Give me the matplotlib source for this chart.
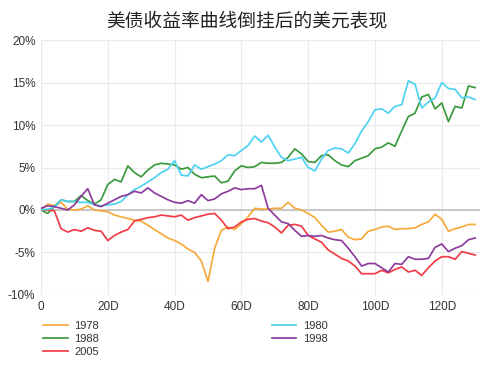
import numpy as np
import matplotlib
matplotlib.use('Agg')
import matplotlib.pyplot as plt

plt.rcParams['font.family'] = ['Liberation Sans', 'Noto Sans CJK SC', 'DejaVu Sans']

# trading days since inversion, sampled every 2 days
days = list(range(0, 131, 2))

s1978 = [0, 0.7, 0.5, 0.9, 0.1, 0.0, 0.1, 0.5, 0.0, -0.1,
         -0.2, -0.6, -0.8, -1.0, -1.2, -1.3, -1.8, -2.3, -2.8, -3.3,
         -3.6, -4.0, -4.6, -5.0, -6.0, -8.4, -4.5, -2.4, -2.0, -2.3,
         -1.6, -0.8, 0.2, 0.1, 0.1, 0.2, 0.2, 0.9, 0.2, 0.0,
         -0.4, -0.9, -1.8, -2.6, -2.5, -2.3, -3.2, -3.5, -3.4, -2.5,
         -2.3, -2.0, -1.9, -2.3, -2.2, -2.2, -2.1, -1.7, -1.4, -0.5,
         -1.1, -2.5, -2.2, -2.0, -1.7, -1.7]
s1980 = [0, 0.1, 0.3, 1.2, 1.0, 1.0, 0.9, 0.9, 0.6, 0.5,
         0.6, 0.7, 1.0, 1.8, 2.4, 2.8, 3.3, 3.8, 4.4, 4.8,
         5.8, 4.1, 4.0, 5.3, 4.8, 5.1, 5.4, 5.8, 6.5, 6.4,
         7.0, 7.6, 8.7, 8.0, 8.8, 7.4, 6.2, 5.8, 6.0, 6.2,
         5.0, 4.6, 6.0, 7.0, 7.3, 7.2, 6.7, 7.8, 9.3, 10.4,
         11.8, 11.9, 11.4, 12.2, 12.4, 15.2, 14.8, 12.0, 12.7, 13.2,
         15.0, 14.3, 14.2, 13.2, 13.3, 13.0]
s1988 = [0, -0.4, 0.4, 1.2, 1.0, 1.0, 1.7, 1.1, 0.7, 1.2,
         3.0, 3.6, 3.3, 5.2, 4.4, 3.9, 4.7, 5.3, 5.5, 5.4,
         5.3, 4.8, 5.0, 4.2, 3.8, 3.9, 4.0, 3.2, 3.4, 4.6,
         5.2, 5.0, 5.1, 5.6, 5.5, 5.5, 5.6, 6.2, 7.2, 6.6,
         5.7, 5.6, 6.4, 6.5, 5.8, 5.3, 5.1, 5.8, 6.1, 6.4,
         7.2, 7.4, 7.9, 7.5, 9.3, 11.0, 11.4, 13.3, 13.6, 11.9,
         12.6, 10.4, 12.2, 12.0, 14.6, 14.4]
s1998 = [0.2, 0.5, 0.4, 0.2, 0.0, 0.6, 1.6, 2.5, 0.6, 0.4,
         0.8, 1.2, 1.6, 1.8, 2.2, 2.0, 2.6, 2.0, 1.6, 1.2,
         0.9, 0.8, 1.1, 0.8, 1.8, 1.1, 1.3, 1.9, 2.2, 2.6,
         2.4, 2.5, 2.5, 2.9, 0.2, -0.6, -1.4, -1.6, -2.4, -3.1,
         -3.0, -3.1, -3.0, -3.3, -3.5, -3.6, -4.5, -5.5, -6.6, -6.3,
         -6.3, -6.8, -7.3, -6.3, -6.4, -5.5, -5.8, -5.8, -5.7, -4.4,
         -4.0, -4.9, -4.5, -4.2, -3.5, -3.3]
s2005 = [0, 0, -0.1, -2.2, -2.6, -2.3, -2.5, -2.1, -2.4, -2.5,
         -3.6, -3.0, -2.6, -2.3, -1.3, -1.1, -0.9, -0.8, -0.6, -0.7,
         -0.8, -0.6, -1.2, -0.9, -0.7, -0.5, -0.4, -1.2, -2.2, -2.0,
         -1.4, -1.1, -1.0, -1.3, -1.5, -2.0, -2.7, -1.8, -1.7, -1.9,
         -3.0, -3.4, -3.8, -4.7, -5.2, -5.7, -6.0, -6.6, -7.5, -7.5,
         -7.5, -7.1, -7.4, -7.0, -6.7, -7.3, -7.1, -7.7, -6.8, -6.0,
         -5.5, -5.5, -5.8, -4.9, -5.1, -5.3]

years = ['1978', '1988', '2005', '1980', '1998']
series = [s1978, s1988, s2005, s1980, s1998]
colors = ['#F7AA3C', '#3C9A3E', '#F23C46', '#4FD2F2', '#8E3C9E']

fig = plt.figure(figsize=(4.94, 3.71), dpi=100)
ax = fig.add_axes([0.083, 0.205, 0.889, 0.687])

for yr, s, c in zip(years, series, colors):
    ax.plot(days, s, color=c, lw=1.25, label=yr)

ax.axhline(0, color='#C8C8C8', lw=1.4, zorder=1)
ax.set_xlim(0, 131.5)
ax.set_ylim(-10, 20)
ax.set_xticks(range(0, 121, 20))
ax.set_xticklabels(['0'] + ['%dD' % d for d in range(20, 121, 20)])
ax.set_yticks(range(-10, 21, 5))
ax.set_yticklabels(['%d%%' % v for v in range(-10, 21, 5)])
ax.grid(True, color='#EBEBEB', lw=0.9, zorder=0)
ax.set_axisbelow(True)
for sp in ax.spines.values():
    sp.set_visible(False)
ax.tick_params(length=0, labelsize=8.5, colors='#333333', pad=4)

fig.text(0.5, 0.945, '美债收益率曲线倒挂后的美元表现', ha='center', va='center',
         fontsize=13.5, color='#222222', family=['Noto Sans CJK SC', 'DejaVu Sans'])

leg = fig.legend(loc='upper left', bbox_to_anchor=(0.072, 0.155), ncol=2,
                 frameon=False, fontsize=8, handlelength=2.2, columnspacing=15.5,
                 labelspacing=0.25, handletextpad=0.6, borderpad=0.2)
for t in leg.get_texts():
    t.set_color('#333333')

fig.savefig('out.png', dpi=100)
